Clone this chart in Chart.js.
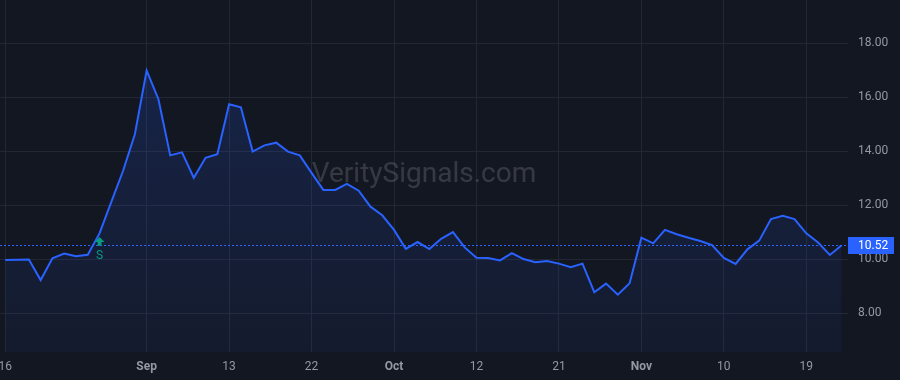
<!DOCTYPE html>
<html>
<head>
<meta charset="utf-8">
<script src="https://cdn.jsdelivr.net/npm/chart.js"></script>
<style>
  html, body { margin: 0; padding: 0; background: #131722; }
  #wrap { width: 900px; height: 380px; position: relative; }
</style>
</head>
<body>
<div id="wrap"><canvas id="myChart"></canvas></div>
<script>
// trading days, Aug 16 - Nov 24 2021
const dates = [
  "08-16", "08-17", "08-18", "08-19", "08-20", "08-23", "08-24", "08-25", "08-26", "08-27", "08-30", "08-31",
  "09-01", "09-02", "09-03", "09-07", "09-08", "09-09", "09-10", "09-13", "09-14", "09-15", "09-16", "09-17",
  "09-20", "09-21", "09-22", "09-23", "09-24", "09-27", "09-28", "09-29", "09-30",
  "10-01", "10-04", "10-05", "10-06", "10-07", "10-08", "10-11", "10-12", "10-13", "10-14", "10-15",
  "10-18", "10-19", "10-20", "10-21", "10-22", "10-25", "10-26", "10-27", "10-28", "10-29",
  "11-01", "11-02", "11-03", "11-04", "11-05", "11-08", "11-09", "11-10", "11-11", "11-12",
  "11-15", "11-16", "11-17", "11-18", "11-19", "11-22", "11-23", "11-24",
];

const closes = [
  9.97, 9.98, 9.99, 9.23, 10.04, 10.21, 10.11, 10.17, 10.96, 12.13, 13.28, 14.63,
  16.99, 15.93, 13.85, 13.96, 13.02, 13.76, 13.89, 15.74, 15.63, 13.99, 14.22, 14.32,
  13.99, 13.85, 13.2, 12.57, 12.57, 12.79, 12.54, 11.95, 11.63,
  11.09, 10.39, 10.64, 10.38, 10.76, 11.01, 10.44, 10.06, 10.05, 9.96, 10.23,
  10.01, 9.89, 9.94, 9.84, 9.71, 9.84, 8.78, 9.10, 8.69, 9.11,
  10.80, 10.59, 11.09, 10.93, 10.80, 10.68, 10.53, 10.05, 9.83, 10.37,
  10.69, 11.49, 11.61, 11.49, 10.96, 10.62, 10.16, 10.52,
];

const tickIdx = [0, 12, 19, 26, 33, 40, 47, 54, 61, 68];
const tickLabels = ["16", "Sep", "13", "22", "Oct", "12", "21", "Nov", "10", "19"];
const monthLabels = ["Sep", "Oct", "Nov"];
const yTicks = [8, 10, 12, 14, 16, 18];

const signalIdx = 8;
const signalText = "S";
const watermark = "VeritySignals.com";
const lastPrice = closes[closes.length - 1];

const blue = "#2962ff";
const green = "#089981";
const textColor = "#9598a1";
const gridColor = "#232733";

const overlay = {
  id: "overlay",
  beforeDraw(chart) {
    const { ctx, width, height } = chart;
    ctx.save();
    ctx.fillStyle = "#131722";
    ctx.fillRect(0, 0, width, height);
    ctx.restore();
  },
  beforeDatasetsDraw(chart) {
    const { ctx, chartArea } = chart;
    ctx.save();
    ctx.font = "28px Roboto";
    ctx.fillStyle = "rgba(255,255,255,0.15)";
    ctx.textAlign = "center";
    ctx.textBaseline = "alphabetic";
    ctx.fillText(watermark, (chartArea.left + chartArea.right) / 2, (chartArea.top + chartArea.bottom) / 2 + 6);
    ctx.restore();
  },
  afterDatasetsDraw(chart) {
    const { ctx, chartArea, scales } = chart;
    const y = Math.round(scales.y.getPixelForValue(lastPrice)) + 0.5;

    ctx.save();
    // last price line
    ctx.strokeStyle = blue;
    ctx.lineWidth = 1;
    ctx.setLineDash([2, 2]);
    ctx.beginPath();
    ctx.moveTo(chartArea.left, y);
    ctx.lineTo(chartArea.right, y);
    ctx.stroke();
    ctx.setLineDash([]);

    // price label
    ctx.fillStyle = blue;
    ctx.fillRect(chartArea.right, y - 8.5, 46, 17);
    ctx.fillStyle = "#ffffff";
    ctx.font = "12px Roboto";
    ctx.textAlign = "left";
    ctx.textBaseline = "middle";
    ctx.fillText(lastPrice.toFixed(2), chartArea.right + 10, y + 0.5);

    // signal marker
    const sx = scales.x.getPixelForValue(signalIdx);
    const sy = scales.y.getPixelForValue(closes[signalIdx]) + 3.5;
    ctx.fillStyle = green;
    ctx.beginPath();
    ctx.moveTo(sx, sy);
    ctx.lineTo(sx - 5, sy + 5);
    ctx.lineTo(sx + 5, sy + 5);
    ctx.closePath();
    ctx.fill();
    ctx.fillRect(sx - 2, sy + 5, 4, 4);
    ctx.font = "12px Roboto";
    ctx.textAlign = "center";
    ctx.textBaseline = "middle";
    ctx.fillText(signalText, sx, sy + 19);
    ctx.restore();
  }
};

const ctx = document.getElementById("myChart");

new Chart(ctx, {
  type: "line",
  data: {
    datasets: [
      {
        label: "Close",
        data: closes.map((v, i) => ({ x: i, y: v })),
        borderColor: blue,
        borderWidth: 2,
        pointRadius: 0,
        tension: 0,
        fill: "start",
        backgroundColor: (c) => {
          const area = c.chart.chartArea;
          if (!area) return "rgba(41,98,255,0.1)";
          const g = c.chart.ctx.createLinearGradient(0, area.top, 0, area.bottom);
          g.addColorStop(0, "rgba(41,98,255,0.2)");
          g.addColorStop(1, "rgba(41,98,255,0.05)");
          return g;
        },
      },
    ],
  },
  options: {
    responsive: true,
    maintainAspectRatio: false,
    animation: false,
    layout: { padding: 0 },
    plugins: {
      legend: { display: false },
      tooltip: { enabled: false },
    },
    scales: {
      x: {
        type: "linear",
        min: -0.45,
        max: 71.54,
        afterBuildTicks: (s) => {
          s.ticks = tickIdx.map((v) => ({ value: v }));
        },
        afterFit: (s) => {
          s.height = 28;
          s.paddingLeft = 0;
          s.paddingRight = 0;
        },
        ticks: {
          autoSkip: false,
          maxRotation: 0,
          padding: 8,
          color: textColor,
          callback: (v) => tickLabels[tickIdx.indexOf(v)],
          font: (c) => ({
            family: "Roboto",
            size: 12,
            weight: monthLabels.includes(tickLabels[c.index]) ? "bold" : "normal",
          }),
        },
        grid: { color: gridColor, drawTicks: false },
        border: { display: false },
      },
      y: {
        position: "right",
        min: 6.567,
        max: 19.604,
        afterBuildTicks: (s) => {
          s.ticks = yTicks.map((v) => ({ value: v }));
        },
        afterFit: (s) => {
          s.width = 52;
          s.paddingTop = 0;
          s.paddingBottom = 0;
        },
        ticks: {
          padding: 10,
          color: textColor,
          font: { family: "Roboto", size: 12 },
          callback: (v) => v.toFixed(2),
        },
        grid: { color: gridColor, drawTicks: false },
        border: { display: false },
      },
    },
  },
  plugins: [overlay],
});
</script>
</body>
</html>
